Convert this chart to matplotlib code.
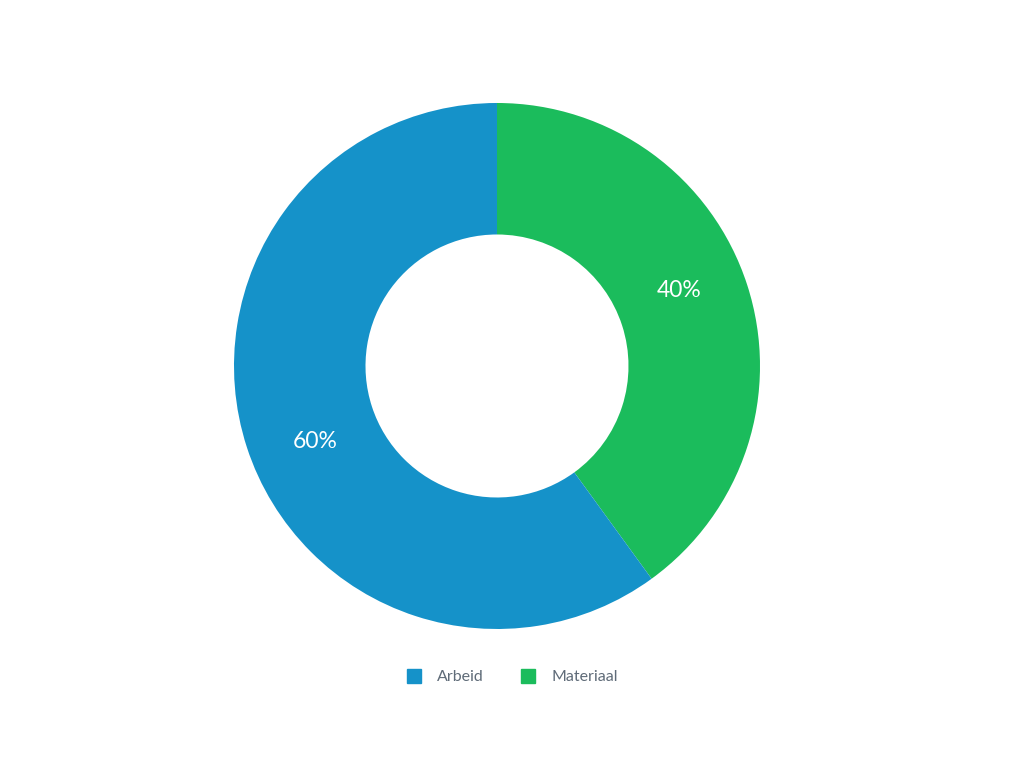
import matplotlib
matplotlib.use("Agg")
import numpy as np
import matplotlib.pyplot as plt
from matplotlib.lines import Line2D

categories = ["Materiaal", "Arbeid"]
values = [40, 60]
colors = ["#1bbc5c", "#1592c9"]
legend_order = ["Arbeid", "Materiaal"]

plt.rcParams['font.family'] = ['Lato', 'DejaVu Sans']

fig = plt.figure(figsize=(10.24, 7.68), dpi=100)
ax = fig.add_axes([0.2285, 0.181, 0.5137, 0.6849])
wedges, texts, autotexts = ax.pie(
    values, colors=colors, startangle=90, counterclock=False,
    radius=1.0, autopct=lambda p: f"{p:.0f}%", pctdistance=0.74,
    wedgeprops=dict(width=0.5, edgecolor="none"),
    textprops=dict(color="white", fontsize=16.5))
# place labels slightly rotated as in the reference renderer
for w, t in zip(wedges, autotexts):
    mid = np.deg2rad((w.theta1 + w.theta2) / 2 + 4.5)
    t.set_position((0.75 * np.cos(mid), 0.75 * np.sin(mid)))
ax.set_xlim(-1, 1)
ax.set_ylim(-1, 1)
ax.set_aspect("equal")
ax.axis("off")

cmap = dict(zip(categories, colors))
handles = [Line2D([0], [0], marker="s", linestyle="none", markersize=10,
                  markerfacecolor=cmap[c], markeredgecolor=cmap[c]) for c in legend_order]
fig.legend(handles, legend_order, loc="center", bbox_to_anchor=(0.5, 0.118),
           ncol=2, frameon=False, fontsize=11.5, labelcolor="#5f6b78",
           handlelength=1.0, columnspacing=2.25, handletextpad=0.95)

fig.savefig("out.png", dpi=100)
